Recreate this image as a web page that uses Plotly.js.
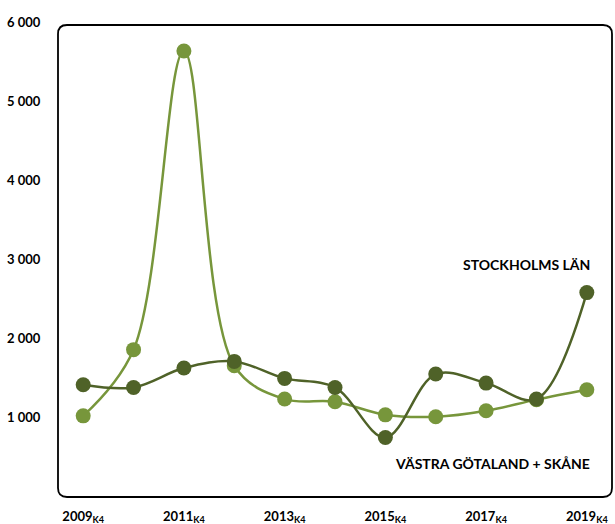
<!DOCTYPE html>
<html>
<head>
<meta charset="utf-8">
<script src="https://cdn.plot.ly/plotly-3.0.1.min.js"></script>
<style>html,body{margin:0;padding:0;background:#fff;}#chart{width:615px;height:524px;}</style>
</head>
<body>
<div id="chart"></div>
<script>
const categories = ["2009K4","2010K4","2011K4","2012K4","2013K4","2014K4","2015K4","2016K4","2017K4","2018K4","2019K4"];
const tickCats = ["2009K4","2011K4","2013K4","2015K4","2017K4","2019K4"];
const tickLabels = ["2009<sub>K4</sub>","2011<sub>K4</sub>","2013<sub>K4</sub>","2015<sub>K4</sub>","2017<sub>K4</sub>","2019<sub>K4</sub>"];
const stockholm = [1418, 1384, 1629, 1713, 1498, 1384, 751, 1553, 1439, 1237, 2582];
const vgSkane = [1025, 1861, 5633, 1658, 1237, 1203, 1038, 1013, 1089, 1230, 1354];
const yTickVals = [1000, 2000, 3000, 4000, 5000, 6000];
const yTickText = ["1 000", "2 000", "3 000", "4 000", "5 000", "6 000"];
const seriesNames = ["STOCKHOLMS LÄN", "VÄSTRA GÖTALAND + SKÅNE"];

const idx = categories.map((_, i) => i);
const tickIdx = tickCats.map(c => categories.indexOf(c));
const darkC = "#4f6228";
const lightC = "#77963b";
const fam = "Lato, 'Open Sans', sans-serif";
const bold = s => "<b>" + s + "</b>";

const traces = [
  {x: idx, y: vgSkane, name: seriesNames[1], mode: "lines+markers", type: "scatter",
   line: {color: lightC, width: 2.5, shape: "spline", smoothing: 1},
   marker: {color: lightC, size: 15}},
  {x: idx, y: stockholm, name: seriesNames[0], mode: "lines+markers", type: "scatter",
   line: {color: darkC, width: 2.5, shape: "spline", smoothing: 1},
   marker: {color: darkC, size: 15}}
];

const W = 554, H = 475, rad = 9;
const rx = rad / W, ry = rad / H;
const boxTop = (497 - 25) / H;
const boxPath = `M ${rx} 0 L ${1 - rx} 0 Q 1 0 1 ${ry} L 1 ${boxTop - ry} Q 1 ${boxTop} ${1 - rx} ${boxTop} L ${rx} ${boxTop} Q 0 ${boxTop} 0 ${boxTop - ry} L 0 ${ry} Q 0 0 ${rx} 0 Z`;

const layout = {
  width: 615, height: 524,
  margin: {l: 58, r: 3, t: 22, b: 27, pad: 0},
  paper_bgcolor: "#fff", plot_bgcolor: "rgba(0,0,0,0)",
  showlegend: false,
  font: {family: fam, size: 13, color: "#000"},
  xaxis: {range: [-0.5, 10.5], tickvals: tickIdx, ticktext: tickLabels.map(bold), showgrid: false, zeroline: false,
          showline: false, ticks: "outside", ticklen: 7, tickcolor: "rgba(0,0,0,0)",
          tickfont: {family: fam, size: 13, color: "#000"}},
  yaxis: {range: [0, 6000], tickvals: yTickVals, ticktext: yTickText.map(bold), showgrid: false, zeroline: false,
          showline: false, ticks: "outside", ticklen: 14, tickcolor: "rgba(0,0,0,0)",
          tickfont: {family: fam, size: 13, color: "#000"}},
  shapes: [{type: "path", xref: "paper", yref: "paper", path: boxPath, line: {color: "#000", width: 1.8}, layer: "below"}],
  annotations: [
    {x: 10.1, y: 2937, xref: "x", yref: "y", xanchor: "right", yanchor: "middle", text: bold(seriesNames[0]), showarrow: false,
     font: {family: fam, size: 14, color: "#000"}},
    {x: 10.1, y: 418, xref: "x", yref: "y", xanchor: "right", yanchor: "middle", text: bold(seriesNames[1]), showarrow: false,
     font: {family: fam, size: 14, color: "#000"}}
  ]
};

Plotly.newPlot("chart", traces, layout, {displayModeBar: false, staticPlot: true});
</script>
</body>
</html>
